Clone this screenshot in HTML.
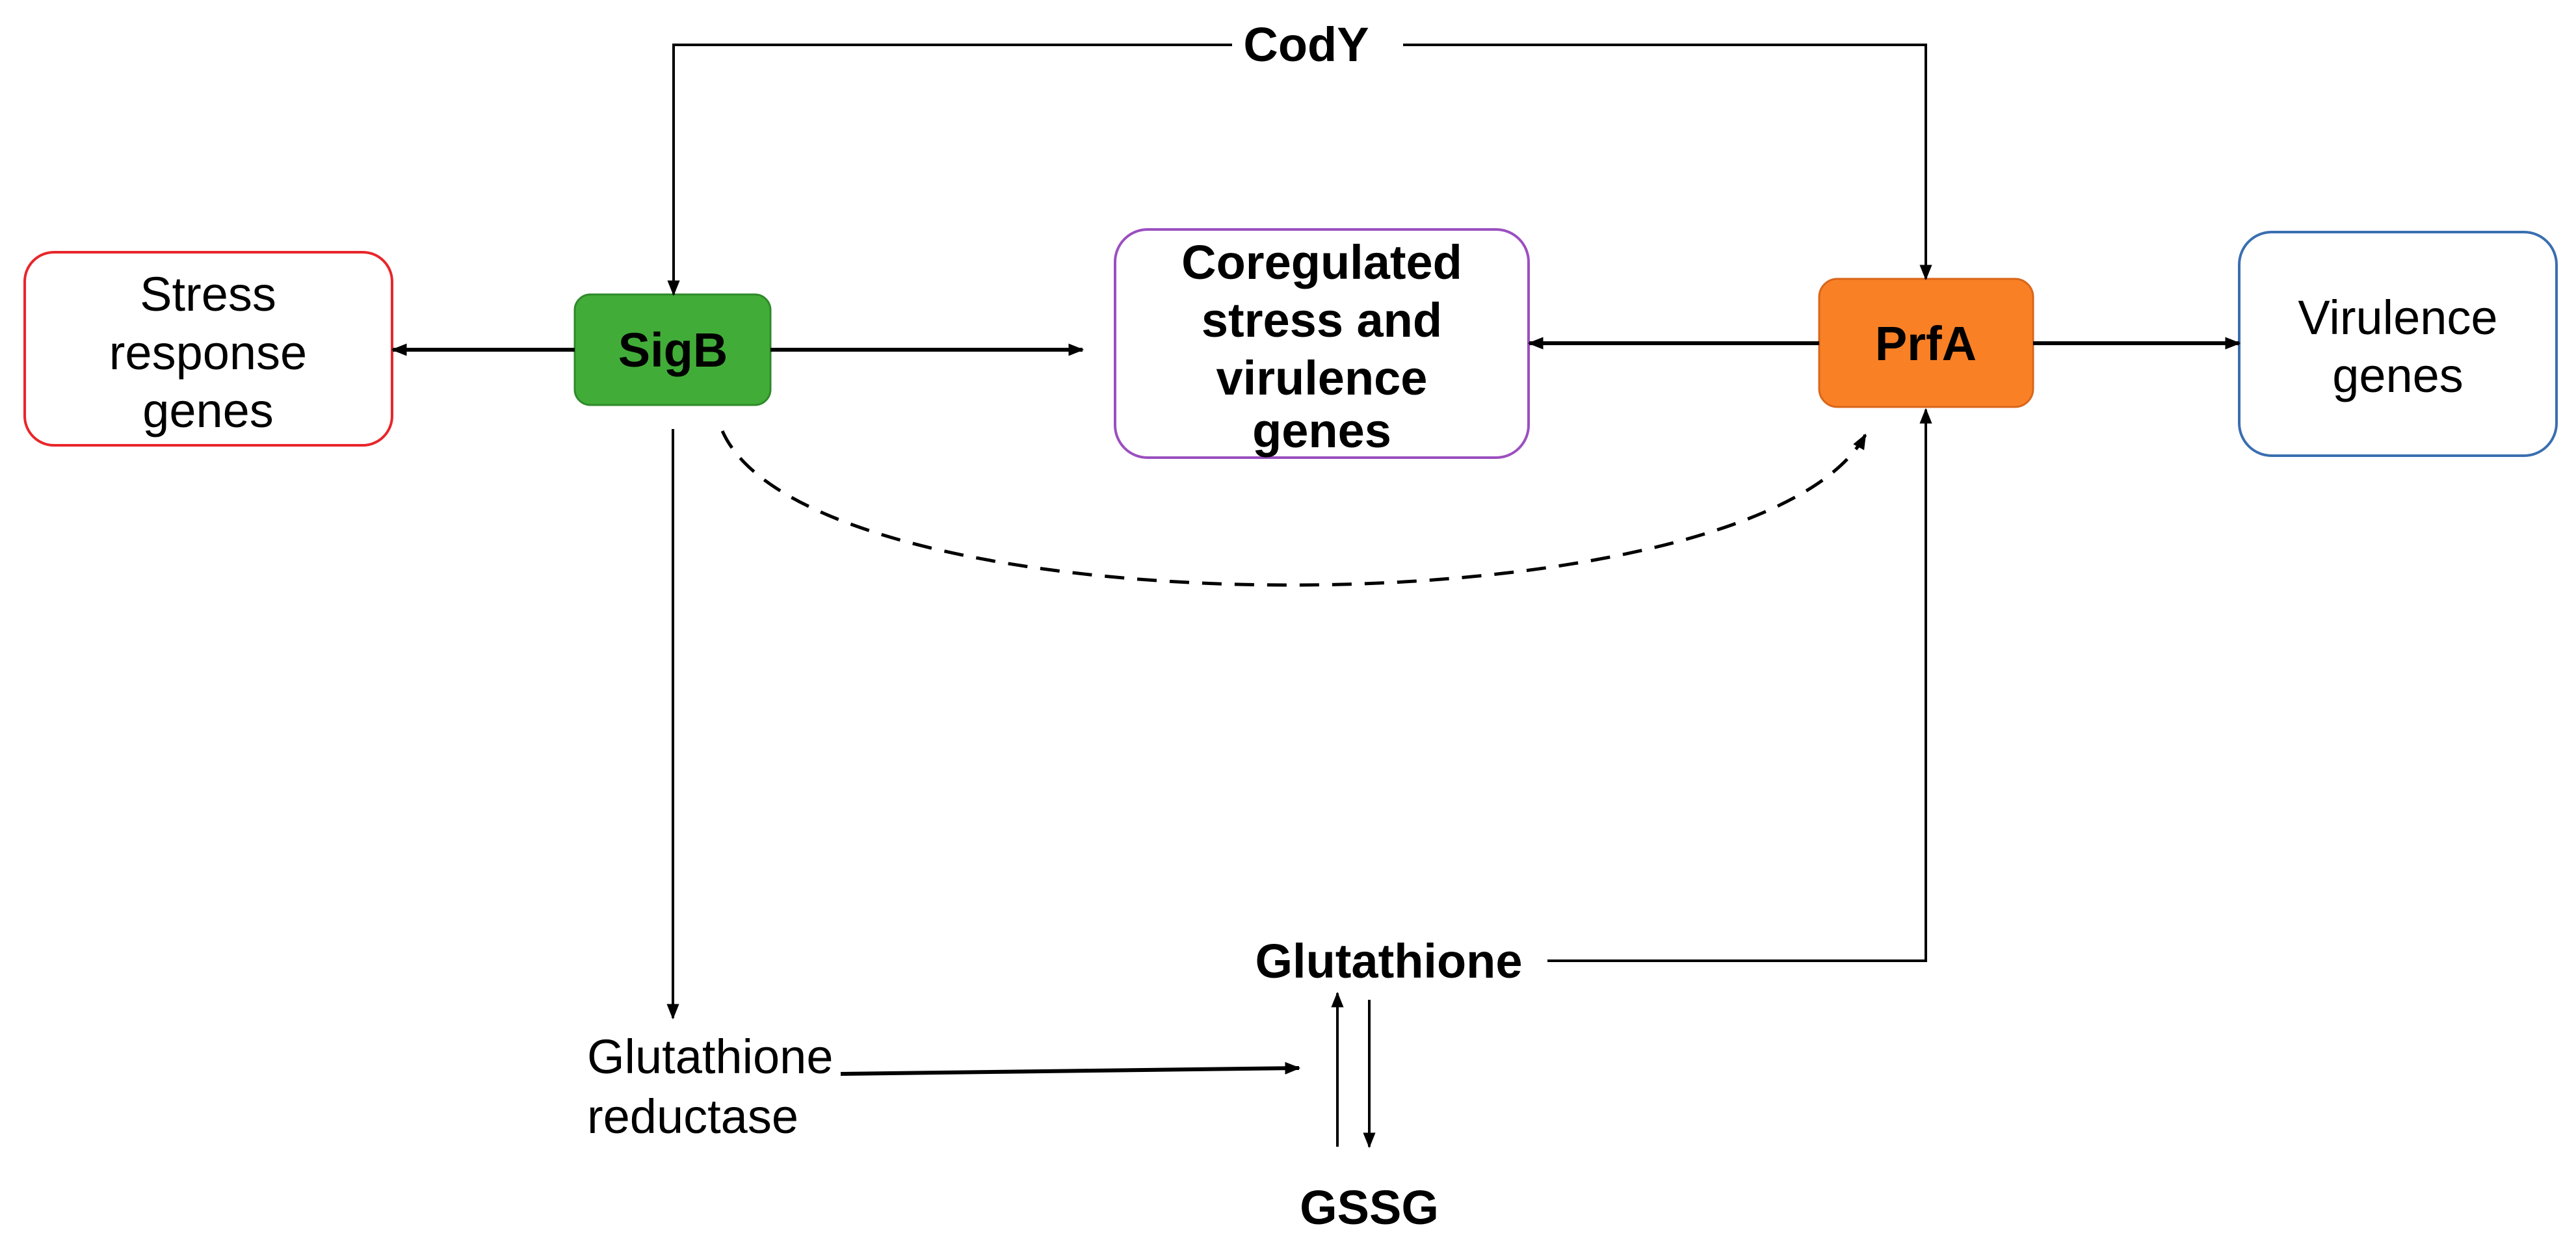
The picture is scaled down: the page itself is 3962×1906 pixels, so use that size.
<!DOCTYPE html>
<html><head><meta charset="utf-8"><style>
html,body{margin:0;padding:0;background:#fff;}
svg{display:block;}
text{font-family:"Liberation Sans",Arial,sans-serif;font-size:74px;fill:#000;}
.b{font-weight:bold;}
</style></head><body>
<svg width="3962" height="1906" viewBox="0 0 3962 1906" xmlns="http://www.w3.org/2000/svg">
<defs>
<marker id="a" viewBox="0 0 10 10" refX="9" refY="5" markerWidth="6" markerHeight="6" markerUnits="userSpaceOnUse" orient="auto"><path d="M0,0 L10,5 L0,10 z" fill="#000"/></marker>
<marker id="ah" viewBox="0 0 10 10" refX="9" refY="5" markerWidth="24" markerHeight="24" markerUnits="userSpaceOnUse" orient="auto"><path d="M0,1 L10,5 L0,9 z" fill="#000"/></marker>
</defs>
<!-- boxes -->
<rect x="38" y="388" width="565" height="297" rx="45" fill="#fff" stroke="#e8262a" stroke-width="4"/>
<rect x="884" y="453" width="301" height="170" rx="24" fill="#41ad38" stroke="#2f8a2a" stroke-width="3"/>
<rect x="1715" y="353" width="636" height="351" rx="50" fill="#fff" stroke="#9b4fc0" stroke-width="4"/>
<rect x="2798" y="429" width="329" height="197" rx="28" fill="#f98025" stroke="#d9661a" stroke-width="3"/>
<rect x="3444" y="357" width="488" height="344" rx="50" fill="#fff" stroke="#3a6eb0" stroke-width="4"/>
<!-- CodY lines -->
<path d="M1895 69 H1036 V453" fill="none" stroke="#000" stroke-width="4" marker-end="url(#ah)"/>
<path d="M2158 69 H2962 V429" fill="none" stroke="#000" stroke-width="4" marker-end="url(#ah)"/>
<!-- horizontal arrows -->
<line x1="884" y1="538" x2="604" y2="538" stroke="#000" stroke-width="6" marker-end="url(#ah)"/>
<line x1="1185" y1="538" x2="1665" y2="538" stroke="#000" stroke-width="6" marker-end="url(#ah)"/>
<line x1="2798" y1="528" x2="2352" y2="528" stroke="#000" stroke-width="6" marker-end="url(#ah)"/>
<line x1="3127" y1="528" x2="3444" y2="528" stroke="#000" stroke-width="6" marker-end="url(#ah)"/>
<!-- SigB down -->
<line x1="1035" y1="660" x2="1035" y2="1566" stroke="#000" stroke-width="4" marker-end="url(#ah)"/>
<!-- dashed curve -->
<path d="M1111 663 C1250 978, 2700 978, 2869 669" fill="none" stroke="#000" stroke-width="5" stroke-dasharray="30 20" marker-end="url(#ah)"/>
<!-- glutathione to PrfA -->
<path d="M2380 1478 H2962 V630" fill="none" stroke="#000" stroke-width="4" marker-end="url(#ah)"/>
<!-- reductase arrow -->
<line x1="1293" y1="1652" x2="1998" y2="1643" stroke="#000" stroke-width="6" marker-end="url(#ah)"/>
<!-- up / down -->
<line x1="2057" y1="1764" x2="2057" y2="1528" stroke="#000" stroke-width="4" marker-end="url(#ah)"/>
<line x1="2106" y1="1538" x2="2106" y2="1764" stroke="#000" stroke-width="4" marker-end="url(#ah)"/>
<!-- texts -->
<text class="b" x="2009" y="94" text-anchor="middle">CodY</text>
<text x="320" y="478" text-anchor="middle">Stress</text>
<text x="320" y="568" text-anchor="middle">response</text>
<text x="320" y="657" text-anchor="middle">genes</text>
<text class="b" x="1035" y="564" text-anchor="middle">SigB</text>
<text class="b" x="2033" y="429" text-anchor="middle">Coregulated</text>
<text class="b" x="2033" y="518" text-anchor="middle">stress and</text>
<text class="b" x="2033" y="607" text-anchor="middle">virulence</text>
<text class="b" x="2033" y="688" text-anchor="middle">genes</text>
<text class="b" x="2962" y="554" text-anchor="middle">PrfA</text>
<text x="3688" y="514" text-anchor="middle">Virulence</text>
<text x="3688" y="603" text-anchor="middle">genes</text>
<text class="b" x="2136" y="1504" text-anchor="middle">Glutathione</text>
<text x="903" y="1651">Glutathione</text>
<text x="903" y="1743">reductase</text>
<text class="b" x="2106" y="1883" text-anchor="middle">GSSG</text>
</svg>
</body></html>
